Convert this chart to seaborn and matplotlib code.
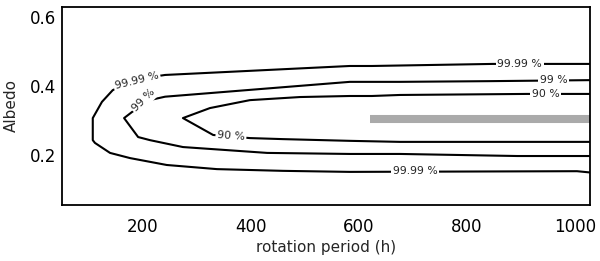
import matplotlib
matplotlib.use("Agg")
import matplotlib.pyplot as plt
import seaborn as sns
import pandas as pd

# contour paths (rotation period in h, albedo)
outer_x = [1030, 848, 624, 583, 241, 190, 144, 124, 107, 107, 111, 139, 176, 244, 337, 459, 583, 1004, 1030]
outer_y = [0.464, 0.464, 0.458, 0.458, 0.432, 0.420, 0.388, 0.354, 0.307, 0.243, 0.235, 0.206, 0.191, 0.171, 0.159, 0.154, 0.151, 0.153, 0.149]
middle_x = [1030, 839, 676, 583, 241, 215, 180, 165, 191, 213, 274, 430, 583, 676, 893, 1030]
middle_y = [0.417, 0.414, 0.412, 0.412, 0.369, 0.360, 0.325, 0.307, 0.252, 0.243, 0.223, 0.206, 0.203, 0.203, 0.197, 0.197]
inner_x = [1030, 911, 676, 624, 583, 491, 398, 324, 274, 330, 398, 459, 583, 676, 1030]
inner_y = [0.377, 0.377, 0.374, 0.371, 0.371, 0.368, 0.359, 0.336, 0.307, 0.258, 0.249, 0.246, 0.241, 0.238, 0.238]

# gray band
band_x = [620, 1030]
band_y = [0.305, 0.305]

# contour labels
label_text = ["99.99 %", "99 %", "90 %", "99.99 %", "90 %", "99.99 %", "99 %"]
label_x = [898, 961, 946, 704, 363, 189, 202]
label_y = [0.464, 0.417, 0.377, 0.153, 0.256, 0.414, 0.358]
label_rot = [0, 0, 0, 0, -4, 14, 45]

x_ticks = [200, 400, 600, 800, 1000]
y_ticks = [0.2, 0.4, 0.6]

sns.set_style("white")
plt.rcParams['font.family'] = ['DejaVu Sans']

fig = plt.figure(figsize=(6, 2.61), dpi=100)
ax = fig.add_axes([62/600, 1 - 205/261, (590-62)/600, (205-7)/261])

curves = []
for name, xs, ys in [("99.99", outer_x, outer_y), ("99", middle_x, middle_y), ("90", inner_x, inner_y)]:
    curves.append(pd.DataFrame({"period": xs, "albedo": ys, "level": name, "order": range(len(xs))}))
df = pd.concat(curves, ignore_index=True)

for name, sub in df.groupby("level", sort=False):
    sns.lineplot(data=sub, x="period", y="albedo", sort=False, estimator=None,
                 color="black", linewidth=1.5, ax=ax)

band = pd.DataFrame({"period": band_x, "albedo": band_y})
sns.lineplot(data=band, x="period", y="albedo", sort=False, estimator=None,
             color="#aaaaaa", linewidth=5.8, solid_capstyle="butt", ax=ax)

for t, x, y, r in zip(label_text, label_x, label_y, label_rot):
    ax.text(x, y, t, fontsize=7.8, ha="center", va="center", rotation=r,
            bbox=dict(boxstyle="square,pad=0.15", fc="white", ec="none"), zorder=5)

ax.set_xlim(50, 1028)
ax.set_ylim(0.055, 0.629)
ax.set_xticks(x_ticks)
ax.set_xticklabels([str(v) for v in x_ticks])
ax.set_yticks(y_ticks)
ax.set_yticklabels([f"{v:.1f}" for v in y_ticks])
ax.tick_params(axis="both", length=0, labelsize=12, colors="black")
ax.tick_params(axis="x", pad=9)
ax.tick_params(axis="y", pad=4)
for s in ax.spines.values():
    s.set_color("black")
    s.set_linewidth(1.3)
    s.set_visible(True)

ax.set_xlabel("rotation period (h)", fontsize=11, labelpad=3)
ax.set_ylabel("Albedo", fontsize=11, labelpad=8)

fig.savefig("out.png", dpi=100)
